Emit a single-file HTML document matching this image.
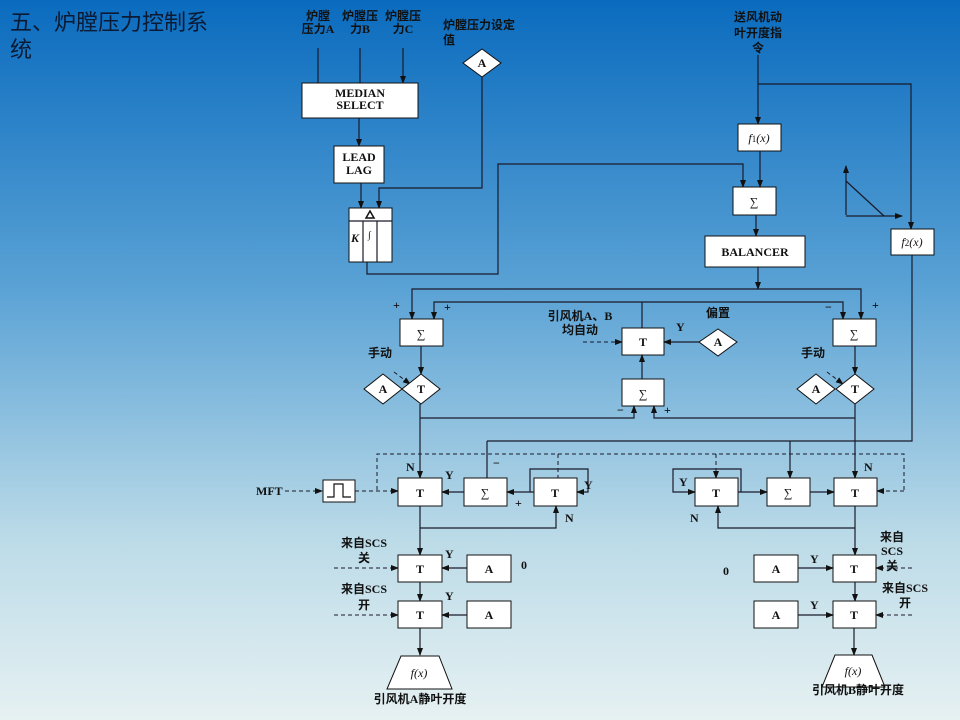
<!DOCTYPE html>
<html><head><meta charset="utf-8"><style>
html,body{margin:0;padding:0;width:960px;height:720px;overflow:hidden}
svg{display:block}
text{font-family:"Liberation Serif","Noto Sans CJK SC",serif;font-weight:bold;font-size:12px;fill:#111}
.t{text-anchor:middle}
.b{fill:#fff;stroke:#111;stroke-width:1}
.l{fill:none;stroke:#1a1a2a;stroke-width:1.2}
.d{fill:none;stroke:#1a1a2a;stroke-width:1;stroke-dasharray:4,3}
</style></head><body>
<svg width="960" height="720" viewBox="0 0 960 720" xmlns="http://www.w3.org/2000/svg">
<defs>
<linearGradient id="bg" x1="0" y1="0" x2="0" y2="1">
<stop offset="0" stop-color="#0a6bbe"/><stop offset="0.4" stop-color="#5aa2d5"/><stop offset="0.75" stop-color="#bcdbe8"/><stop offset="1" stop-color="#e6f1f2"/></linearGradient>
<marker id="a" markerWidth="8" markerHeight="8" refX="7" refY="4" orient="auto" markerUnits="userSpaceOnUse"><path d="M0,1 L8,4 L0,7 z" fill="#111"/></marker>
</defs>
<rect width="960" height="720" fill="url(#bg)"/>
<text x="10" y="30" style="font-family:'Liberation Sans','Noto Sans CJK SC',sans-serif;font-weight:normal;font-size:22px;fill:#0c1a33">五、炉膛压力控制系</text>
<text x="10" y="57" style="font-family:'Liberation Sans','Noto Sans CJK SC',sans-serif;font-weight:normal;font-size:22px;fill:#0c1a33">统</text>

<!-- inputs -->
<text class="t" x="318" y="20">炉膛</text><text class="t" x="318" y="33">压力A</text>
<text class="t" x="360" y="20">炉膛压</text><text class="t" x="360" y="33">力B</text>
<text class="t" x="403" y="20">炉膛压</text><text class="t" x="403" y="33">力C</text>
<path class="l" marker-end="url(#a)" d="M318,48V83M360,48V83M403,48V83"/>
<rect class="b" x="302" y="83" width="116" height="35"/>
<text class="t" x="360" y="97">MEDIAN</text><text class="t" x="360" y="109">SELECT</text>
<path class="l" marker-end="url(#a)" d="M359,118V146"/>
<rect class="b" x="334" y="146" width="50" height="37"/>
<text class="t" x="359" y="161">LEAD</text><text class="t" x="359" y="174">LAG</text>
<path class="l" marker-end="url(#a)" d="M361,183V208"/>
<text x="443" y="29">炉膛压力设定</text><text x="443" y="44">值</text>
<polygon class="b" points="482,49 501,63 482,77 463,63"/><text class="t" x="482" y="67">A</text>
<path class="l" marker-end="url(#a)" d="M482,77V188H379V208"/>
<rect class="b" x="349" y="208" width="43" height="54"/>
<path class="l" d="M349,221H392M363,221V262M377,221V262"/>
<path d="M366,218L370,211L374,218Z" fill="none" stroke="#111" stroke-width="1.5"/>
<text x="351" y="242" style="font-style:italic">K</text><text x="368" y="238" style="font-weight:normal;font-size:10px">∫</text>
<path class="l" marker-end="url(#a)" d="M367,262V274H498V164H743V187"/>

<!-- right top -->
<text class="t" x="758" y="21">送风机动</text><text class="t" x="758" y="37">叶开度指</text><text class="t" x="758" y="52">令</text>
<path class="l" marker-end="url(#a)" d="M758,55V124"/>
<path class="l" marker-end="url(#a)" d="M758,84H911V229"/>
<rect class="b" x="738" y="124" width="43" height="27"/>
<text class="t" x="759" y="142" style="font-weight:normal;font-style:italic">f<tspan font-size="9" font-style="normal">1</tspan>(x)</text>
<path class="l" marker-end="url(#a)" d="M760,151V187"/>
<rect class="b" x="733" y="187" width="43" height="28"/><text class="t" x="754" y="206" style="font-weight:normal">∑</text>
<path class="l" marker-end="url(#a)" d="M756,215V236"/>
<rect class="b" x="705" y="236" width="100" height="31"/><text class="t" x="755" y="256">BALANCER</text>
<path class="l" marker-end="url(#a)" d="M846,215V166"/>
<path class="l" marker-end="url(#a)" d="M846,216H902"/>
<path class="l" d="M846,181L884,216"/>
<rect class="b" x="891" y="229" width="43" height="26"/>
<text class="t" x="912" y="246" style="font-weight:normal;font-style:italic">f<tspan font-size="9" font-style="normal">2</tspan>(x)</text>
<path class="l" d="M912,255V441H487"/>
<path class="l" marker-end="url(#a)" d="M487,441V478M790,441V478"/>

<!-- distribution -->
<path class="l" marker-end="url(#a)" d="M758,267V289"/>
<path class="l" marker-end="url(#a)" d="M758,289H412V319"/>
<path class="l" marker-end="url(#a)" d="M758,289H861V319"/>
<path class="l" d="M642,328V302"/>
<path class="l" marker-end="url(#a)" d="M642,302H434V319"/>
<path class="l" marker-end="url(#a)" d="M642,302H843V319"/>
<text x="393" y="309">+</text><text x="444" y="311">+</text><text x="825" y="311">−</text><text x="872" y="309">+</text>
<rect class="b" x="400" y="319" width="43" height="27"/><text class="t" x="421" y="338" style="font-weight:normal">∑</text>
<rect class="b" x="833" y="319" width="43" height="27"/><text class="t" x="854" y="338" style="font-weight:normal">∑</text>
<text class="t" x="580" y="320">引风机A、B</text><text class="t" x="580" y="334">均自动</text>
<path class="d" marker-end="url(#a)" d="M583,342H622"/>
<rect class="b" x="622" y="328" width="42" height="27"/><text class="t" x="643" y="346">T</text>
<text class="t" x="718" y="317">偏置</text><text x="676" y="331">Y</text>
<polygon class="b" points="718,329 737,342 718,356 699,342"/><text class="t" x="718" y="346">A</text>
<path class="l" marker-end="url(#a)" d="M699,342H664"/>
<rect class="b" x="622" y="379" width="42" height="27"/><text class="t" x="643" y="398" style="font-weight:normal">∑</text>
<path class="l" marker-end="url(#a)" d="M642,379V355"/>
<text x="617" y="414">−</text><text x="664" y="414">+</text>
<path class="l" marker-end="url(#a)" d="M420,418H634V406"/>
<path class="l" marker-end="url(#a)" d="M855,418H654V406"/>

<text class="t" x="380" y="357">手动</text><text class="t" x="813" y="357">手动</text>
<path class="d" marker-end="url(#a)" d="M394,372L410,384"/>
<path class="d" marker-end="url(#a)" d="M827,372L843,384"/>
<path class="l" marker-end="url(#a)" d="M421,346V374"/>
<path class="l" marker-end="url(#a)" d="M855,346V374"/>
<polygon class="b" points="383,374 402,389 383,404 364,389"/><text class="t" x="383" y="393">A</text>
<polygon class="b" points="421,374 440,389 421,404 402,389"/><text class="t" x="421" y="393">T</text>
<polygon class="b" points="816,374 835,389 816,404 797,389"/><text class="t" x="816" y="393">A</text>
<polygon class="b" points="855,374 874,389 855,404 836,389"/><text class="t" x="855" y="393">T</text>
<path class="l" marker-end="url(#a)" d="M420,404V478"/>
<path class="l" marker-end="url(#a)" d="M855,404V478"/>

<!-- dashed MFT -->
<path class="d" d="M377,490V454H904V491"/>
<path class="d" marker-end="url(#a)" d="M904,491H877"/>
<path class="d" marker-end="url(#a)" d="M558,454V478M716,454V478"/>
<text x="256" y="495">MFT</text>
<path class="d" marker-end="url(#a)" d="M285,491H322"/>
<rect class="b" x="323" y="480" width="32" height="22"/>
<path d="M327,497H334V484H343V497H351" fill="none" stroke="#111" stroke-width="1.2"/>
<path class="d" marker-end="url(#a)" d="M355,491H398"/>

<!-- left row -->
<rect class="b" x="398" y="478" width="44" height="28"/><text class="t" x="420" y="497">T</text>
<rect class="b" x="464" y="478" width="43" height="28"/><text class="t" x="485" y="497" style="font-weight:normal">∑</text>
<rect class="b" x="534" y="478" width="43" height="28"/><text class="t" x="555" y="497">T</text>
<path class="l" marker-end="url(#a)" d="M464,492H442"/>
<path class="l" marker-end="url(#a)" d="M534,492H507"/>
<path class="l" marker-end="url(#a)" d="M530,492V469H588V492H577"/>
<text x="406" y="471">N</text><text x="445" y="479">Y</text><text x="493" y="467">−</text><text x="515" y="507">+</text><text x="584" y="489">Y</text><text x="565" y="522">N</text>
<path class="l" marker-end="url(#a)" d="M420,528H556V506"/>
<!-- right row -->
<rect class="b" x="695" y="478" width="43" height="28"/><text class="t" x="716" y="497">T</text>
<rect class="b" x="767" y="478" width="43" height="28"/><text class="t" x="788" y="497" style="font-weight:normal">∑</text>
<rect class="b" x="834" y="478" width="43" height="28"/><text class="t" x="855" y="497">T</text>
<path class="l" marker-end="url(#a)" d="M741,492V469H673V492H695"/>
<path class="l" marker-end="url(#a)" d="M738,492H767"/>
<path class="l" marker-end="url(#a)" d="M810,492H834"/>
<text x="679" y="486">Y</text><text x="864" y="471">N</text><text x="690" y="522">N</text>
<path class="l" marker-end="url(#a)" d="M855,528H718V506"/>
<path class="l" marker-end="url(#a)" d="M420,506V555"/>
<path class="l" marker-end="url(#a)" d="M855,506V555"/>

<!-- lower left -->
<text class="t" x="364" y="547">来自SCS</text><text class="t" x="364" y="562">关</text>
<path class="d" marker-end="url(#a)" d="M334,568H398"/>
<rect class="b" x="398" y="555" width="44" height="27"/><text class="t" x="420" y="573">T</text>
<rect class="b" x="467" y="555" width="44" height="27"/><text class="t" x="489" y="573">A</text>
<path class="l" marker-end="url(#a)" d="M467,568H442"/>
<text x="445" y="558">Y</text><text x="521" y="569">0</text>
<path class="l" marker-end="url(#a)" d="M420,582V601"/>
<text class="t" x="364" y="593">来自SCS</text><text class="t" x="364" y="609">开</text>
<path class="d" marker-end="url(#a)" d="M334,615H398"/>
<rect class="b" x="398" y="601" width="44" height="27"/><text class="t" x="420" y="619">T</text>
<rect class="b" x="467" y="601" width="44" height="27"/><text class="t" x="489" y="619">A</text>
<path class="l" marker-end="url(#a)" d="M467,615H442"/>
<text x="445" y="600">Y</text>
<path class="l" marker-end="url(#a)" d="M420,628V655"/>
<polygon class="b" points="401,656 439,656 452,689 387,689"/>
<text class="t" x="419" y="677" style="font-weight:normal;font-style:italic">f(x)</text>
<text class="t" x="420" y="703">引风机A静叶开度</text>

<!-- lower right -->
<rect class="b" x="754" y="555" width="44" height="27"/><text class="t" x="776" y="573">A</text>
<rect class="b" x="833" y="555" width="43" height="27"/><text class="t" x="854" y="573">T</text>
<path class="l" marker-end="url(#a)" d="M798,568H833"/>
<text x="810" y="563">Y</text><text x="723" y="575">0</text>
<text class="t" x="892" y="541">来自</text><text class="t" x="892" y="555">SCS</text><text class="t" x="892" y="570">关</text>
<path class="d" marker-end="url(#a)" d="M912,568H876"/>
<path class="l" marker-end="url(#a)" d="M855,582V601"/>
<text class="t" x="905" y="592">来自SCS</text><text class="t" x="905" y="607">开</text>
<rect class="b" x="754" y="601" width="44" height="27"/><text class="t" x="776" y="619">A</text>
<rect class="b" x="833" y="601" width="43" height="27"/><text class="t" x="854" y="619">T</text>
<path class="l" marker-end="url(#a)" d="M798,615H833"/>
<text x="810" y="609">Y</text>
<path class="d" marker-end="url(#a)" d="M912,615H876"/>
<path class="l" marker-end="url(#a)" d="M854,628V655"/>
<polygon class="b" points="835,655 872,655 885,687 822,687"/>
<text class="t" x="853" y="675" style="font-weight:normal;font-style:italic">f(x)</text>
<text class="t" x="858" y="694">引风机B静叶开度</text>
</svg>
</body></html>
